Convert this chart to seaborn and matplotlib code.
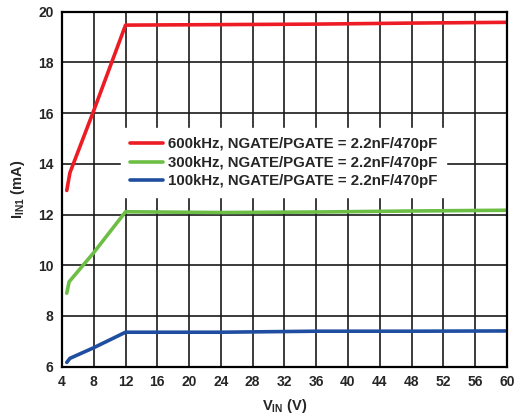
import pandas as pd
import matplotlib
matplotlib.use("Agg")
import matplotlib.pyplot as plt
import seaborn as sns

# values
vin_600 = [4.6, 5.0, 8.0, 12, 24, 36, 48, 60]
iin_600 = [12.95, 13.65, 16.1, 19.47, 19.49, 19.51, 19.55, 19.58]
vin_300 = [4.6, 4.9, 8.0, 12, 24, 36, 48, 60]
iin_300 = [8.9, 9.35, 10.5, 12.11, 12.08, 12.1, 12.14, 12.17]
vin_100 = [4.6, 5.0, 8.0, 12, 24, 36, 48, 60]
iin_100 = [6.17, 6.33, 6.75, 7.36, 7.36, 7.4, 7.4, 7.41]

labels = ["600kHz, NGATE/PGATE = 2.2nF/470pF",
          "300kHz, NGATE/PGATE = 2.2nF/470pF",
          "100kHz, NGATE/PGATE = 2.2nF/470pF"]
colors = ["#ED1C24", "#6DBE45", "#1F4EA0"]

xticks = list(range(4, 61, 4))
yticks = list(range(6, 21, 2))

df = pd.concat([
    pd.DataFrame({"vin": vin_600, "iin": iin_600, "curve": labels[0]}),
    pd.DataFrame({"vin": vin_300, "iin": iin_300, "curve": labels[1]}),
    pd.DataFrame({"vin": vin_100, "iin": iin_100, "curve": labels[2]}),
])

sns.set_style("white")
plt.rcParams['font.family'] = ['Liberation Sans', 'DejaVu Sans']
plt.rcParams['font.weight'] = 'bold'
plt.rcParams['mathtext.fontset'] = 'custom'
plt.rcParams['mathtext.rm'] = 'Liberation Sans:bold'
plt.rcParams['mathtext.bf'] = 'Liberation Sans:bold'
plt.rcParams['mathtext.it'] = 'Liberation Sans:bold'

fig = plt.figure(figsize=(5.14, 4.17), dpi=100)
ax = fig.add_axes([0.1206, 0.1206, 0.8655, 0.8514])

sns.lineplot(data=df, x="vin", y="iin", hue="curve", hue_order=labels,
             palette=colors, sort=False, estimator=None, linewidth=2.6,
             ax=ax, zorder=3)

ax.set_xlim(4, 60)
ax.set_ylim(6, 20)
ax.set_xticks(xticks)
ax.set_yticks(yticks)
ax.tick_params(axis='both', labelsize=10, length=0, pad=6)
for lab in ax.get_xticklabels() + ax.get_yticklabels():
    lab.set_fontweight('bold')
ax.grid(True, color='#1a1a1a', linewidth=1.2)
for s in ax.spines.values():
    s.set_color('black')
    s.set_linewidth(1.6)
    s.set_zorder(4)

ax.set_xlabel(r"$\mathrm{V}_{\mathrm{IN}}$ (V)", fontsize=10.5, fontweight='bold', labelpad=6)
ax.set_ylabel(r"$\mathrm{I}_{\mathrm{IN1}}$ (mA)", fontsize=10.5, fontweight='bold', labelpad=8)

leg = ax.legend(loc='center', bbox_to_anchor=(0.498, 0.574), frameon=True,
                fontsize=10.8, handlelength=2.2, handletextpad=0.35,
                labelspacing=0.3, borderpad=0.6, borderaxespad=0)
leg.get_frame().set_facecolor('white')
leg.get_frame().set_edgecolor('white')
leg.get_frame().set_alpha(1)
leg.set_zorder(5)
for t in leg.get_texts():
    t.set_fontweight('bold')

fig.savefig("out.png", dpi=100)
